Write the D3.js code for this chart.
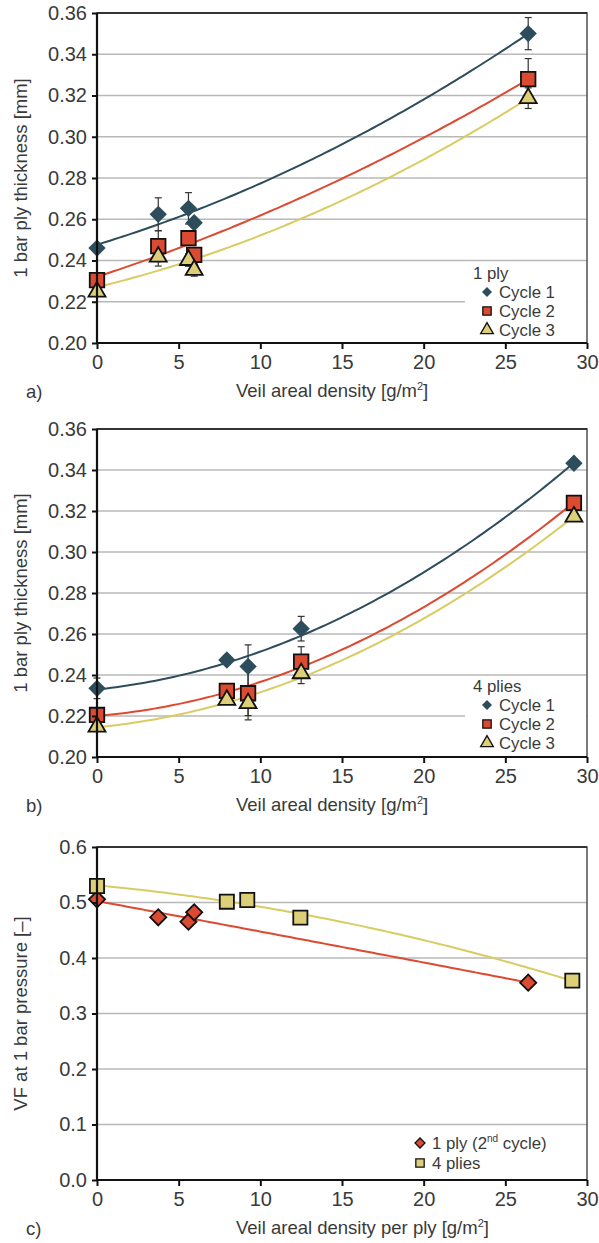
<!DOCTYPE html>
<html>
<head>
<meta charset="utf-8">
<script src="https://cdn.jsdelivr.net/npm/d3@7"></script>
<style>
  body { margin: 0; background: #fff; }
  svg { display: block; font-family: "Liberation Sans", Arial, sans-serif; }
</style>
</head>
<body>
<svg id="chart" width="599" height="1243"></svg>
<script>
// ---- data ----
var xTicks = [0, 5, 10, 15, 20, 25, 30];
var thickTicks = [0.20, 0.22, 0.24, 0.26, 0.28, 0.30, 0.32, 0.34, 0.36];
var vfTicks = [0.0, 0.1, 0.2, 0.3, 0.4, 0.5, 0.6];

// a) 1 ply
var onePlyX = [0, 3.75, 5.6, 5.95, 26.4];
var onePlyCycle1 = [0.2460, 0.2624, 0.2653, 0.2583, 0.3500];
var onePlyCycle1Err = [0.000, 0.0080, 0.0076, 0.0020, 0.0078];
var onePlyCycle2 = [0.2305, 0.2470, 0.2508, 0.2427, 0.3279];
var onePlyCycle2Err = [0.000, 0.0075, 0.0030, 0.0030, 0.0100];
var onePlyCycle3 = [0.2249, 0.2418, 0.2402, 0.2354, 0.3187];
var onePlyCycle3Err = [0.000, 0.0045, 0.0030, 0.0030, 0.0050];

// b) 4 plies
var fourPliesX = [0, 7.95, 9.25, 12.5, 29.2];
var fourPliesCycle1 = [0.2335, 0.2473, 0.2442, 0.2626, 0.3433];
var fourPliesCycle1Err = [0.0050, 0.0020, 0.0105, 0.0060, 0.0020];
var fourPliesCycle2 = [0.2205, 0.2323, 0.2311, 0.2465, 0.3240];
var fourPliesCycle2Err = [0.0020, 0.0020, 0.0130, 0.0073, 0.0020];
var fourPliesCycle3 = [0.2148, 0.2278, 0.2262, 0.2408, 0.3172];
var fourPliesCycle3Err = [0.0020, 0.0020, 0.0060, 0.0050, 0.0020];

// c) fibre volume fraction
var vfOnePlyX = [0, 3.75, 5.6, 5.95, 26.4];
var vfOnePly = [0.5057, 0.4733, 0.4655, 0.4823, 0.3556];
var vfFourPliesX = [0, 7.95, 9.2, 12.45, 29.1];
var vfFourPlies = [0.5297, 0.5015, 0.5045, 0.4727, 0.3592];

// ---- styles ----
var TEAL = "#2d4d5c", RED = "#dd4a32", YELLOW = "#dccf78", YLINE = "#d8cc62";
var TEXT = "#3a3a3a";
var FS = 18.5, TICK_FS = 20, LEG_FS = 16.8;

var svg = d3.select("#chart");
var left = 97, right = 587;

// least squares 2nd order polynomial (like the spreadsheet trendline)
function polyFit(xs, ys) {
  var n = xs.length, s = [0, 0, 0, 0, 0], t = [0, 0, 0];
  for (var i = 0; i < n; i++) {
    var p = 1;
    for (var k = 0; k < 5; k++) { s[k] += p; if (k < 3) t[k] += p * ys[i]; p *= xs[i]; }
  }
  var A = [[s[0], s[1], s[2], t[0]], [s[1], s[2], s[3], t[1]], [s[2], s[3], s[4], t[2]]];
  for (var c = 0; c < 3; c++) {
    for (var r = c + 1; r < 3; r++) {
      var f = A[r][c] / A[c][c];
      for (var j = c; j < 4; j++) A[r][j] -= f * A[c][j];
    }
  }
  var co = [0, 0, 0];
  for (var r2 = 2; r2 >= 0; r2--) {
    var v = A[r2][3];
    for (var j2 = r2 + 1; j2 < 3; j2++) v -= A[r2][j2] * co[j2];
    co[r2] = v / A[r2][r2];
  }
  return function(x) { return co[0] + co[1] * x + co[2] * x * x; };
}

function markerPath(shape, size) {
  if (shape === "triangle") return d3.symbol(d3.symbolTriangle, size)();
  return d3.symbol(d3.symbolSquare, size)(); // diamond = rotated square
}

function drawPanel(cfg) {
  var g = svg.append("g");
  var x = d3.scaleLinear().domain([0, 30]).range([left, right]);
  var y = d3.scaleLinear().domain(cfg.yDomain).range([cfg.bottom, cfg.top]);

  // grid
  g.selectAll(".grid").data(cfg.yTicks.slice(1)).enter().append("line")
    .attr("x1", left).attr("x2", right)
    .attr("y1", function(d) { return y(d); }).attr("y2", function(d) { return y(d); })
    .attr("stroke", "#b8b8b8").attr("stroke-width", 1.5);

  // frame
  g.append("rect").attr("x", left).attr("y", cfg.top)
    .attr("width", right - left).attr("height", cfg.bottom - cfg.top)
    .attr("fill", "none").attr("stroke", "#505050").attr("stroke-width", 1.5);
  g.append("line").attr("x1", left).attr("x2", right)
    .attr("y1", cfg.top).attr("y2", cfg.top).attr("stroke", "#222").attr("stroke-width", 1.5);

  // legend background hides the grid behind it
  g.append("rect").attr("x", cfg.legend.x).attr("y", cfg.legend.y)
    .attr("width", right - 1 - cfg.legend.x).attr("height", cfg.legend.h).attr("fill", "#fff");

  // trend lines
  cfg.series.forEach(function(s) {
    var fit = polyFit(s.x, s.y);
    var xMax = d3.max(s.x);
    var pts = d3.range(0, 101).map(function(i) { return xMax * i / 100; });
    g.append("path")
      .attr("d", d3.line().x(function(d) { return x(d); }).y(function(d) { return y(fit(d)); })(pts))
      .attr("fill", "none").attr("stroke", s.line).attr("stroke-width", 2);
  });

  // error bars
  cfg.series.forEach(function(s) {
    if (!s.err) return;
    s.x.forEach(function(xv, i) {
      var e = s.err[i];
      if (!e) return;
      var cx = x(xv), y1 = y(s.y[i] - e), y2 = y(s.y[i] + e);
      g.append("line").attr("x1", cx).attr("x2", cx).attr("y1", y1).attr("y2", y2)
        .attr("stroke", "#333").attr("stroke-width", 1.2);
      [y1, y2].forEach(function(yy) {
        g.append("line").attr("x1", cx - 3.5).attr("x2", cx + 3.5).attr("y1", yy).attr("y2", yy)
          .attr("stroke", "#333").attr("stroke-width", 1.2);
      });
    });
  });

  // markers
  cfg.series.forEach(function(s) {
    g.selectAll(null).data(s.x).enter().append("path")
      .attr("d", markerPath(s.shape, s.size))
      .attr("transform", function(d, i) {
        return "translate(" + x(d) + "," + y(s.y[i]) + ")" + (s.shape === "diamond" ? " rotate(45)" : "");
      })
      .attr("fill", s.fill).attr("stroke", s.stroke).attr("stroke-width", s.stroke === "none" ? 0 : 1.8);
  });

  // axes
  var yAxis = d3.axisLeft(y).tickValues(cfg.yTicks).tickSize(5).tickPadding(5).tickFormat(d3.format(cfg.yFormat));
  var ya = g.append("g").attr("transform", "translate(" + left + ",0)").call(yAxis);
  var xAxis = d3.axisBottom(x).tickValues(xTicks).tickSize(6).tickPadding(6).tickFormat(d3.format("d"));
  var xa = g.append("g").attr("transform", "translate(0," + cfg.bottom + ")").call(xAxis);
  [ya, xa].forEach(function(a) {
    a.select(".domain").attr("stroke", "#111").attr("stroke-width", 2.2);
    a.selectAll(".tick line").attr("stroke", "#111").attr("stroke-width", 2);
    a.selectAll(".tick text").attr("fill", TEXT).style("font-size", TICK_FS + "px");
  });
  ya.select(".domain").attr("d", "M0," + cfg.bottom + "V" + cfg.top);
  xa.select(".domain").attr("d", "M" + left + ",0H" + right);

  // titles
  g.append("text").attr("transform", "translate(27," + (cfg.top + cfg.bottom) / 2 + ") rotate(-90)")
    .attr("text-anchor", "middle").attr("fill", TEXT).style("font-size", FS + "px").text(cfg.yTitle);
  var xt = g.append("text").attr("x", 236).attr("y", cfg.bottom + 54)
    .attr("fill", TEXT).style("font-size", FS + "px");
  xt.append("tspan").text(cfg.xTitle);
  xt.append("tspan").attr("dy", -7).style("font-size", "11px").text("2");
  xt.append("tspan").attr("dy", 7).text("]");
  g.append("text").attr("x", 26).attr("y", cfg.bottom + 55).attr("fill", TEXT)
    .style("font-size", FS + "px").text(cfg.tag);

  // legend
  var L = cfg.legend;
  var row = 0;
  if (L.title) {
    g.append("text").attr("x", L.x + 8).attr("y", L.y + 15).attr("fill", TEXT)
      .style("font-size", LEG_FS + "px").text(L.title);
    row = 1;
  }
  cfg.series.forEach(function(s, i) {
    var cy = L.y + 9 + (row + i) * L.step;
    g.append("path").attr("d", markerPath(s.shape, s.shape === "diamond" ? 50 : 70))
      .attr("transform", "translate(" + (L.x + 22) + "," + cy + ")" + (s.shape === "diamond" ? " rotate(45)" : ""))
      .attr("fill", s.fill).attr("stroke", s.stroke).attr("stroke-width", s.stroke === "none" ? 0 : 1.3);
    var t = g.append("text").attr("x", L.x + 34).attr("y", cy + 6).attr("fill", TEXT)
      .style("font-size", LEG_FS + "px");
    s.label.forEach(function(part) {
      if (part.sup) t.append("tspan").attr("dy", -7).style("font-size", "10px").text(part.t);
      else if (part.down) t.append("tspan").attr("dy", 7).text(part.t);
      else t.append("tspan").text(part.t);
    });
  });
}

function cycles(xs, c1, e1, c2, e2, c3, e3) {
  return [
    { x: xs, y: c1, err: e1, shape: "diamond", size: 150, fill: TEAL, stroke: "none", line: TEAL, label: [{ t: "Cycle 1" }] },
    { x: xs, y: c2, err: e2, shape: "square", size: 210, fill: RED, stroke: "#111", line: RED, label: [{ t: "Cycle 2" }] },
    { x: xs, y: c3, err: e3, shape: "triangle", size: 125, fill: YELLOW, stroke: "#111", line: YLINE, label: [{ t: "Cycle 3" }] }
  ];
}

drawPanel({
  top: 13, bottom: 343, yDomain: [0.20, 0.36], yTicks: thickTicks, yFormat: ".2f",
  yTitle: "1 bar ply thickness [mm]", xTitle: "Veil areal density [g/m", tag: "a)",
  legend: { x: 465, y: 264, h: 78, step: 19, title: "1 ply" },
  series: cycles(onePlyX, onePlyCycle1, onePlyCycle1Err, onePlyCycle2, onePlyCycle2Err, onePlyCycle3, onePlyCycle3Err)
});

drawPanel({
  top: 429, bottom: 757, yDomain: [0.20, 0.36], yTicks: thickTicks, yFormat: ".2f",
  yTitle: "1 bar ply thickness [mm]", xTitle: "Veil areal density [g/m", tag: "b)",
  legend: { x: 465, y: 677, h: 79, step: 19, title: "4 plies" },
  series: cycles(fourPliesX, fourPliesCycle1, fourPliesCycle1Err, fourPliesCycle2, fourPliesCycle2Err, fourPliesCycle3, fourPliesCycle3Err)
});

drawPanel({
  top: 847, bottom: 1180, yDomain: [0, 0.6], yTicks: vfTicks, yFormat: ".1f",
  yTitle: "VF at 1 bar pressure [–]", xTitle: "Veil areal density per ply [g/m", tag: "c)",
  legend: { x: 398, y: 1134, h: 42, step: 20, title: null },
  series: [
    { x: vfOnePlyX, y: vfOnePly, shape: "diamond", size: 130, fill: RED, stroke: "#111", line: RED,
      label: [{ t: "1 ply (2" }, { t: "nd", sup: true }, { t: " cycle)", down: true }] },
    { x: vfFourPliesX, y: vfFourPlies, shape: "square", size: 200, fill: YELLOW, stroke: "#111", line: YLINE,
      label: [{ t: "4 plies" }] }
  ]
});
</script>
</body>
</html>
